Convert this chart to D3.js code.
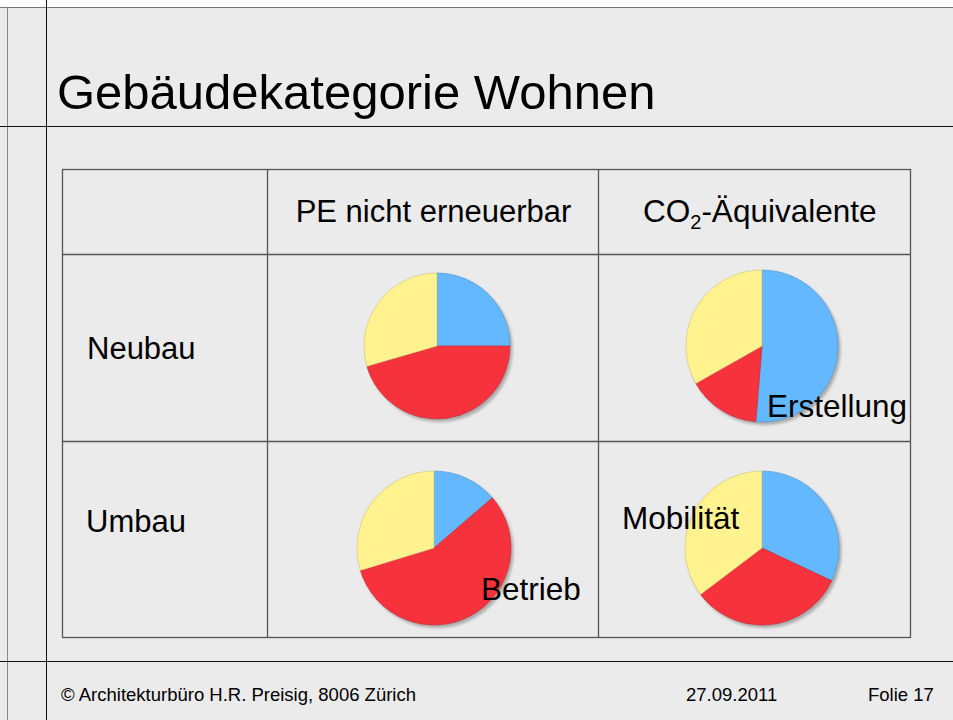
<!DOCTYPE html>
<html>
<head>
<meta charset="utf-8">
<script src="https://cdn.jsdelivr.net/npm/d3@7"></script>
<style>
  body { margin: 0; background: #fff; }
  text { font-family: "Liberation Sans", Arial, sans-serif; fill: #000; }
</style>
</head>
<body>
<svg id="slide"></svg>
<script>
// data
const parts = ["Erstellung", "Betrieb", "Mobilität"];
const partColors = ["#64b8ff", "#f6323d", "#fff28f"];
const columns = ["PE nicht erneuerbar", "CO2-Äquivalente"];
const rows = ["Neubau", "Umbau"];
const peNeubau = [25.0, 45.5, 29.5];
const co2Neubau = [51.3, 15.5, 33.2];
const peUmbau = [13.7, 56.6, 29.7];
const co2Umbau = [32.0, 32.7, 35.3];
const title = "Gebäudekategorie Wohnen";
const footer = ["© Architekturbüro H.R. Preisig, 8006 Zürich", "27.09.2011", "Folie 17"];

const width = 953, height = 720;

const svg = d3.select("#slide")
  .attr("width", width)
  .attr("height", height);

// slide frame
svg.append("rect").attr("x", 0).attr("y", 7).attr("width", width).attr("height", height).attr("fill", "#ebebeb");
svg.append("line").attr("x1", 0).attr("x2", width).attr("y1", 7.5).attr("y2", 7.5).attr("stroke", "#777");
svg.append("line").attr("x1", 7.5).attr("x2", 7.5).attr("y1", 7).attr("y2", height).attr("stroke", "#888");
svg.append("line").attr("x1", 46.5).attr("x2", 46.5).attr("y1", 0).attr("y2", height).attr("stroke", "#111");
svg.append("line").attr("x1", 0).attr("x2", width).attr("y1", 126.5).attr("y2", 126.5).attr("stroke", "#111");
svg.append("line").attr("x1", 0).attr("x2", width).attr("y1", 661.5).attr("y2", 661.5).attr("stroke", "#111");

svg.append("text")
  .attr("x", 57).attr("y", 109)
  .attr("font-size", 49)
  .text(title);

// table
const colEdges = [62, 267, 598, 910];
const rowEdges = [169, 254, 441, 637];
const table = svg.append("g");

table.append("rect")
  .attr("x", colEdges[0] + 0.5).attr("y", rowEdges[0] + 0.5)
  .attr("width", colEdges[3] - colEdges[0]).attr("height", rowEdges[3] - rowEdges[0])
  .attr("fill", "none").attr("stroke", "#555").attr("stroke-width", 1.3);

colEdges.slice(1, 3).forEach(x => {
  table.append("line").attr("x1", x + 0.5).attr("x2", x + 0.5)
    .attr("y1", rowEdges[0]).attr("y2", rowEdges[3])
    .attr("stroke", "#555").attr("stroke-width", 1.3);
});
rowEdges.slice(1, 3).forEach(y => {
  table.append("line").attr("x1", colEdges[0]).attr("x2", colEdges[3])
    .attr("y1", y + 0.5).attr("y2", y + 0.5)
    .attr("stroke", "#555").attr("stroke-width", 1.3);
});

// header
table.append("text")
  .attr("x", (colEdges[1] + colEdges[2]) / 2 + 1).attr("y", 222)
  .attr("text-anchor", "middle")
  .attr("font-size", 31)
  .text(columns[0]);

const co2 = table.append("text")
  .attr("x", 643).attr("y", 222)
  .attr("font-size", 31.5);
co2.append("tspan").text("CO");
co2.append("tspan").attr("font-size", 20).attr("dy", 7).text("2");
co2.append("tspan").attr("dy", -7).text(columns[1].slice(3));

// row labels
table.append("text").attr("x", 87).attr("y", 359).attr("font-size", 31).text(rows[0]);
table.append("text").attr("x", 86).attr("y", 532).attr("font-size", 31).text(rows[1]);

// pies
const defs = svg.append("defs");
defs.append("filter").attr("id", "shadow")
  .attr("x", "-20%").attr("y", "-20%").attr("width", "140%").attr("height", "140%")
  .append("feGaussianBlur").attr("stdDeviation", 1.5);

const pie = d3.pie().sort(null).value(d => d);
const color = d3.scaleOrdinal().domain(parts).range(partColors);

const charts = [
  { values: peNeubau, cx: 437, cy: 346, r: 73 },
  { values: co2Neubau, cx: 762, cy: 346, r: 76 },
  { values: peUmbau, cx: 434, cy: 548, r: 77 },
  { values: co2Umbau, cx: 762, cy: 548, r: 77 }
];

charts.forEach(c => {
  const g = svg.append("g").attr("transform", `translate(${c.cx},${c.cy})`);
  g.append("circle")
    .attr("cx", 2.5).attr("cy", 3).attr("r", c.r)
    .attr("fill", "#9a9a9a").attr("opacity", 0.8)
    .attr("filter", "url(#shadow)");
  const arc = d3.arc().innerRadius(0).outerRadius(c.r);
  g.selectAll("path")
    .data(pie(c.values))
    .enter()
    .append("path")
    .attr("d", arc)
    .attr("fill", (d, i) => color(parts[i]))
    .attr("stroke", (d, i) => d3.color(color(parts[i])).darker(0.6))
    .attr("stroke-width", 0.6);
});

// legend labels placed on the pies
const labels = [
  { text: parts[0], x: 767, y: 417 },
  { text: parts[1], x: 481, y: 600 },
  { text: parts[2], x: 622, y: 529 }
];
svg.selectAll(".part-label")
  .data(labels)
  .enter()
  .append("text")
  .attr("class", "part-label")
  .attr("x", d => d.x).attr("y", d => d.y)
  .attr("font-size", 31.5)
  .text(d => d.text);

// footer
svg.append("text").attr("x", 61).attr("y", 701).attr("font-size", 18.5).text(footer[0]);
svg.append("text").attr("x", 686).attr("y", 701).attr("font-size", 18.5).text(footer[1]);
svg.append("text").attr("x", 868).attr("y", 701).attr("font-size", 18.5).text(footer[2]);
</script>
</body>
</html>
